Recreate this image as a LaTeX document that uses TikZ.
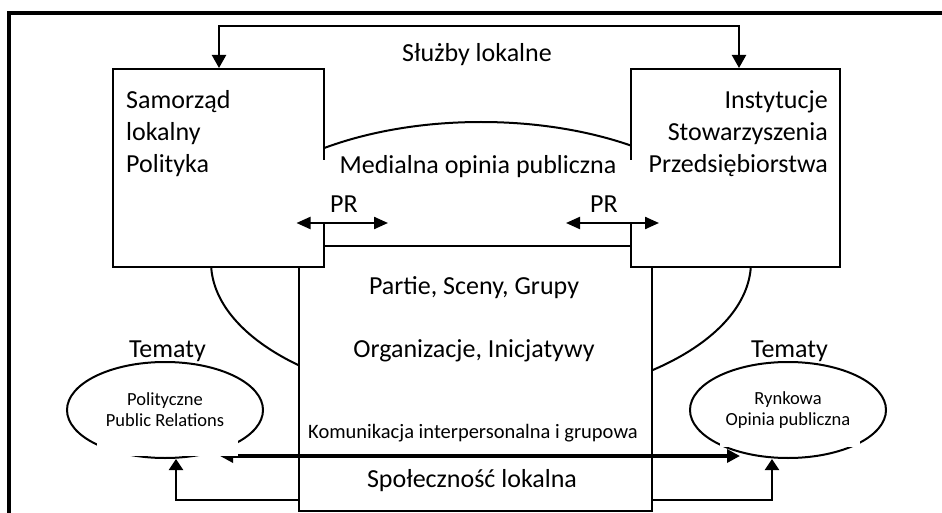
\documentclass[tikz,border=0pt]{standalone}
\usepackage{fontspec}
\setmainfont{Carlito}
\usetikzlibrary{arrows.meta,shapes.geometric}
\begin{document}
\begin{tikzpicture}[x=1pt,y=-1pt,
  lw/.style={line width=2pt},
  frameline/.style={line width=3.4pt},
  box/.style={draw, line width=2pt, fill=white, inner sep=0pt, rectangle},
  big/.style={font=\fontsize{26}{32}\selectfont, inner sep=0pt},
  mid/.style={font=\fontsize{20.5}{24}\selectfont, inner sep=0pt},
  oval/.style={draw, ellipse, line width=2pt, inner sep=0pt, minimum width=196pt, minimum height=96pt, align=center, font=\fontsize{18.5}{21}\selectfont},
  mask/.style={fill=white, inner sep=0pt, rectangle},
  conn/.style={line width=2.2pt},
  bothtop/.style={{Triangle[length=13pt,width=14pt]}-{Triangle[length=13pt,width=14pt]}},
  bothpr/.style={{Triangle[length=14pt,width=12pt]}-{Triangle[length=14pt,width=12pt]}},
  bothlow/.style={line width=3.2pt,{Triangle[length=13pt,width=13pt]}-{Triangle[length=13pt,width=13pt]}},
  tipup/.style={-{Triangle[length=11pt,width=14pt]}}
]
\useasboundingbox (0,0) rectangle (942,513);
% outer frame
\draw[frameline] (9,516) -- (9,13) -- (946,13);
% big media ellipse
\draw[lw] (481,262) ellipse [x radius=270pt, y radius=140pt];
% boxes
\node[box, minimum width=353pt, minimum height=265pt] (central) at (475.5,378.5) {};
\node[box, minimum width=211pt, minimum height=198pt] (lbox) at (218.5,168) {};
\node[box, minimum width=209pt, minimum height=198pt] (rbox) at (735.5,168) {};
\node[mask, minimum width=322pt, minimum height=63pt] (medmask) at (477.5,191.5) {};
% texts
\node[big, anchor=base] (sluzby) at (477,62) {Służby lokalne};
\node[big, anchor=base west, align=left] (samtxt) at (126,173) {Samorząd\\lokalny\\Polityka};
\node[big, anchor=base east, align=right] (insttxt) at (828,173) {Instytucje\\Stowarzyszenia\\Przedsiębiorstwa};
\node[big, anchor=base] (med) at (478,174) {Medialna opinia publiczna};
\node[big, anchor=base] (prl) at (344,213) {PR};
\node[big, anchor=base] (prr) at (604,213) {PR};
\node[big, anchor=base] (partie) at (474,294) {Partie, Sceny, Grupy};
\node[big, anchor=base] (org) at (474,357) {Organizacje, Inicjatywy};
\node[big, anchor=base] (teml) at (167.5,357) {Tematy};
\node[big, anchor=base] (temr) at (789.5,357) {Tematy};
\node[mid, anchor=base] (kom) at (473,438) {Komunikacja interpersonalna i grupowa};
\node[big, anchor=base] (spol) at (472,487) {Społeczność lokalna};
% top connector
\coordinate (tl) at (219,26);
\coordinate (tr) at (739,26);
\draw[conn, bothtop] (lbox.north -| tl) -- (tl) -- (tr) -- (rbox.north -| tr);
% PR arrows
\coordinate (prla) at (296.5,223);
\coordinate (prlb) at (388,223);
\coordinate (prra) at (566,223);
\coordinate (prrb) at (659,223);
\draw[conn, bothpr] (prla) -- (prlb);
\draw[conn, bothpr] (prra) -- (prrb);
% topic ellipses
\node[oval] (lell) at (165,410) {Polityczne\\Public Relations};
\node[oval] (rell) at (788,410) {Rynkowa\\Opinia publiczna};
% lower connectors
\draw[conn, tipup] (central.west |- 0,500) -| ([xshift=11pt]lell.south);
\draw[conn, tipup] (central.east |- 0,500) -| ([xshift=-16pt]rell.south);
\coordinate (hl) at (220,456);
\coordinate (hr) at (740,456);
\draw[bothlow] (hl) -- (hr);
\node[mask, minimum width=141pt, minimum height=24pt] (lmask) at (167.5,443.5) {};
\node[mask, minimum width=140pt, minimum height=15pt] (rmask) at (790,439) {};
\end{tikzpicture}
\end{document}
